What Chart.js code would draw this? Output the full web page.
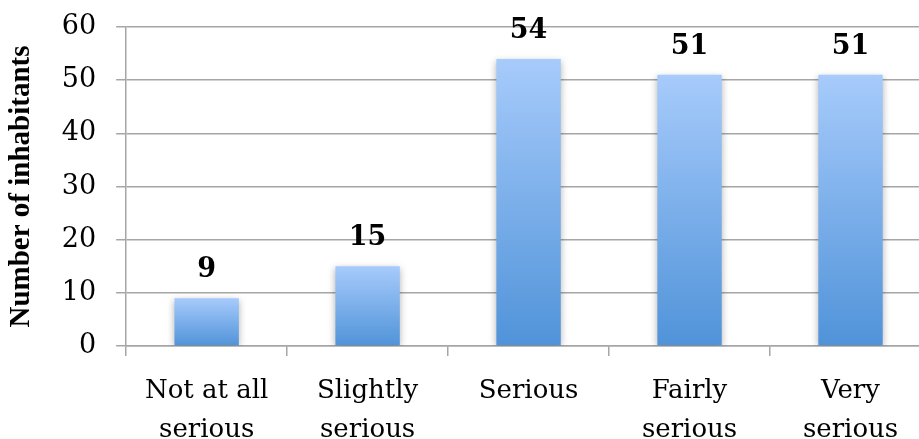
<!DOCTYPE html>
<html>
<head>
<meta charset="utf-8">
<script src="https://cdn.jsdelivr.net/npm/chart.js@4"></script>
<style>
  html, body { margin: 0; padding: 0; overflow: hidden; background: #fff; }
  #myChart { display: block; }
</style>
</head>
<body>
<canvas id="myChart" width="940" height="439"></canvas>
<script>
// datos del grafico
const categorias = [["Not at all", "serious"], ["Slightly", "serious"], "Serious", ["Fairly", "serious"], ["Very", "serious"]];
const habitantes = [9, 15, 54, 51, 51];
const ticksY = [0, 10, 20, 30, 40, 50, 60];

const fuente = "'DejaVu Serif', 'Liberation Serif', serif";
const gris = "#a6a6a6";

// gradiente por barra, claro arriba y oscuro abajo
function colorBarra(context) {
  const chart = context.chart;
  if (context.type !== "data" || !chart.scales || !chart.scales.y) return "#7fb0ea";
  const escalaY = chart.scales.y;
  const base = escalaY.getPixelForValue(0);
  const top = escalaY.getPixelForValue(context.raw);
  if (!isFinite(top) || !isFinite(base) || base === top) return "#7fb0ea";
  const g = chart.ctx.createLinearGradient(0, top, 0, base);
  g.addColorStop(0, "#a7cbfb");
  g.addColorStop(1, "#5093d9");
  return g;
}

// sombra suave alrededor de las barras
const sombra = {
  id: "sombra",
  beforeDatasetsDraw(chart) {
    const ctx = chart.ctx;
    ctx.save();
    ctx.shadowColor = "rgba(0,0,0,0.3)";
    ctx.shadowBlur = 7;
    ctx.shadowOffsetX = 0;
    ctx.shadowOffsetY = 2;
  },
  afterDatasetsDraw(chart) {
    chart.ctx.restore();
  }
};

// etiquetas de valores encima de cada barra
const etiquetas = {
  id: "etiquetas",
  afterDatasetsDraw(chart) {
    const ctx = chart.ctx;
    const meta = chart.getDatasetMeta(0);
    ctx.save();
    ctx.font = "bold 27px " + fuente;
    ctx.fillStyle = "#000";
    ctx.textAlign = "center";
    ctx.textBaseline = "alphabetic";
    meta.data.forEach((bar, i) => {
      ctx.fillText(habitantes[i], bar.x, bar.y - 21);
    });
    ctx.restore();
  }
};

const config = {
  type: "bar",
  data: {
    labels: categorias,
    datasets: [{
      data: habitantes,
      backgroundColor: colorBarra,
      borderWidth: 0,
      categoryPercentage: 1,
      barPercentage: 0.4
    }]
  },
  options: {
    responsive: false,
    animation: false,
    layout: { padding: { top: 0, right: 9, left: 4, bottom: 0 } },
    plugins: { legend: { display: false }, tooltip: { enabled: false } },
    scales: {
      x: {
        afterFit(scale) { scale.height = 93; },
        grid: { display: true, drawOnChartArea: false, drawTicks: true, tickLength: 10, color: gris, lineWidth: 1.5, offset: true },
        border: { display: true, color: gris, width: 1.5 },
        ticks: { color: "#000", font: { family: fuente, size: 26, lineHeight: 1.5 }, padding: 16, maxRotation: 0, autoSkip: false }
      },
      y: {
        min: 0,
        max: 60,
        afterFit(scale) { scale.paddingTop = 27; scale.paddingBottom = 0; },
        afterBuildTicks(axis) { axis.ticks = ticksY.map(v => ({ value: v })); },
        grid: { color: gris, lineWidth: 1.5, tickLength: 10 },
        border: { display: true, color: gris, width: 1.5 },
        ticks: { color: "#000", font: { family: fuente, size: 27 }, padding: 20 },
        title: { display: true, text: "Number of inhabitants", color: "#000", font: { family: "'Liberation Serif', serif", size: 29, weight: "bold", lineHeight: 1.2 }, padding: { top: 0, bottom: 3 } }
      }
    }
  },
  plugins: [sombra, etiquetas]
};

new Chart(document.getElementById("myChart"), config);
</script>
</body>
</html>
